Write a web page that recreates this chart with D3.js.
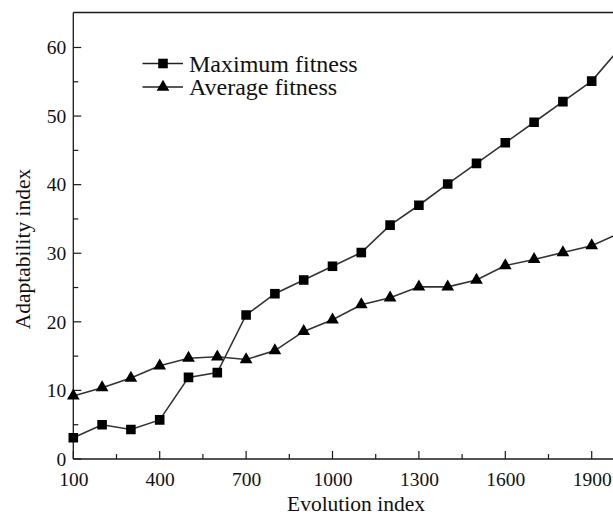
<!DOCTYPE html>
<html><head><meta charset="utf-8">
<script src="https://cdn.jsdelivr.net/npm/d3@7"></script>
<style>
body{margin:0;background:#fff;}
text{font-family:"Liberation Serif","Times New Roman",serif;fill:#111;}
</style></head>
<body><svg id="c" width="613" height="516"></svg>
<script>
const evolution = [100,200,300,400,500,600,700,800,900,1000,1100,1200,1300,1400,1500,1600,1700,1800,1900,2000];
const maxFitness = [3.1,5.0,4.3,5.7,11.9,12.6,21.0,24.1,26.1,28.1,30.1,34.1,37.0,40.1,43.1,46.1,49.1,52.1,55.1,60.0];
const avgFitness = [9.2,10.4,11.8,13.6,14.7,14.9,14.5,15.8,18.6,20.3,22.5,23.5,25.1,25.1,26.1,28.2,29.1,30.1,31.1,33.0];
const xTicks = [100,400,700,1000,1300,1600,1900];
const yTicks = [0,10,20,30,40,50,60];
const seriesNames = ["Maximum fitness","Average fitness"];

(function(){
const svg = d3.select("#c");
const mL = 73.3, mR = 620.5, mT = 12.5, mB = 459;
const x = d3.scaleLinear().domain([100,2000]).range([mL,mR]);
const y = d3.scaleLinear().domain([0,65.1]).range([mB,mT]);
const ink = "#1a1a1a";
const serif = "Liberation Serif";

// frame
svg.append("line").attr("x1",mL).attr("x2",mR+5).attr("y1",mT).attr("y2",mT).attr("stroke",ink).attr("stroke-width",1.3);

// x axis
const gx = svg.append("g").attr("transform",`translate(0,${mB})`);
gx.call(d3.axisBottom(x).tickValues(xTicks).tickSize(0).tickPadding(0).tickFormat(d3.format("d")));
gx.select(".domain").remove();
gx.attr("font-family",serif).attr("font-size",19.5);
gx.selectAll("text").attr("dy","0").attr("y",26.5).attr("fill","#111");
svg.append("line").attr("x1",mL).attr("x2",mR+5).attr("y1",mB).attr("y2",mB).attr("stroke",ink).attr("stroke-width",1.3);
const xMinor = d3.range(100,2001,150);
svg.selectAll(".xt").data(xMinor).join("line")
  .attr("x1",d=>x(d)).attr("x2",d=>x(d))
  .attr("y1",mB).attr("y2",d=>mB-(xTicks.includes(d)?8:5))
  .attr("stroke",ink).attr("stroke-width",1.2);

// y axis
const gy = svg.append("g").attr("transform",`translate(${mL},0)`);
gy.call(d3.axisLeft(y).tickValues(yTicks).tickSize(0).tickPadding(7).tickFormat(d3.format("d")));
gy.select(".domain").remove();
gy.attr("font-family",serif).attr("font-size",19.5);
gy.selectAll("text").attr("dy","0.32em").attr("fill","#111");
svg.append("line").attr("x1",mL).attr("x2",mL).attr("y1",mT).attr("y2",mB).attr("stroke",ink).attr("stroke-width",1.3);
const yMinor = d3.range(0,65,5);
svg.selectAll(".yt").data(yMinor).join("line")
  .attr("x1",mL).attr("x2",d=>mL+(d%10===0?8:5))
  .attr("y1",d=>y(d)).attr("y2",d=>y(d))
  .attr("stroke",ink).attr("stroke-width",1.2);

// axis labels
svg.append("text").attr("x",356).attr("y",511).attr("text-anchor","middle").attr("font-size",21.5).text("Evolution index");
svg.append("text").attr("transform","translate(30,249) rotate(-90)").attr("text-anchor","middle").attr("font-size",21.5).text("Adaptability index");

// clip
svg.append("clipPath").attr("id","clip").append("rect").attr("x",mL-8).attr("y",mT-8).attr("width",mR-mL+16).attr("height",mB-mT+16);
const plot = svg.append("g").attr("clip-path","url(#clip)");

const line = d3.line().x((d,i)=>x(evolution[i])).y(d=>y(d));
plot.append("path").datum(maxFitness).attr("d",line).attr("fill","none").attr("stroke","#333").attr("stroke-width",1.6);
plot.append("path").datum(avgFitness).attr("d",line).attr("fill","none").attr("stroke","#333").attr("stroke-width",1.6);

const sq = d3.symbol().type(d3.symbolSquare).size(92);
const tri = d3.symbol().type(d3.symbolTriangle).size(70);
plot.selectAll(".sq").data(maxFitness).join("path")
  .attr("d",sq).attr("transform",(d,i)=>`translate(${x(evolution[i])},${y(d)})`).attr("fill","#000");
plot.selectAll(".tr").data(avgFitness).join("path")
  .attr("d",tri).attr("transform",(d,i)=>`translate(${x(evolution[i])},${y(d)})`).attr("fill","#000");

// legend
const leg = svg.append("g");
const rows = [{name:seriesNames[0],sym:sq,yy:63.5},{name:seriesNames[1],sym:tri,yy:87}];
rows.forEach(r=>{
  leg.append("line").attr("x1",142.5).attr("x2",183).attr("y1",r.yy).attr("y2",r.yy).attr("stroke","#222").attr("stroke-width",1.6);
  leg.append("path").attr("d",r.sym).attr("transform",`translate(163,${r.yy})`).attr("fill","#000");
  leg.append("text").attr("x",189).attr("y",r.yy).attr("dy","0.35em").attr("font-size",24).text(r.name);
});
})();
</script></body></html>
